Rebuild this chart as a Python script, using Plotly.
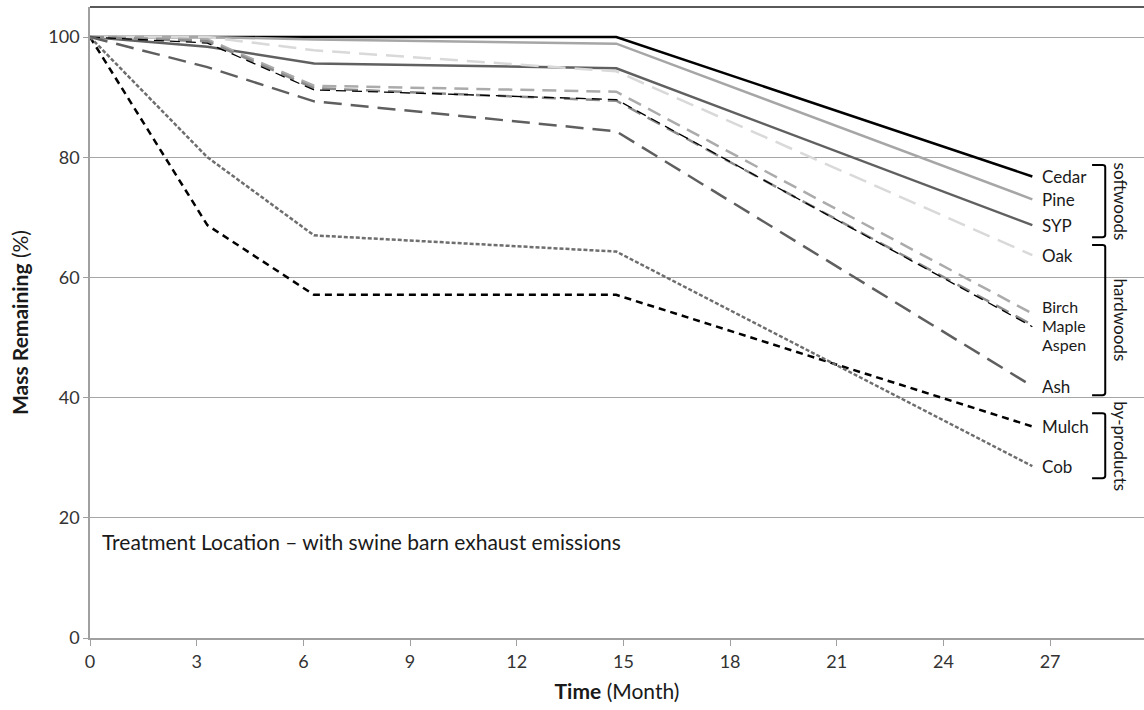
import plotly.graph_objects as go

# ---- data ----
time_months = [0, 3.3, 6.3, 14.8, 26.5]
series_names = ["Cedar", "Pine", "SYP", "Oak", "Birch", "Maple", "Aspen", "Ash", "Mulch", "Cob"]
cedar = [100, 100, 100, 100, 76.8]
pine = [100, 100, 99.6, 98.9, 73.0]
syp = [100, 98.4, 95.6, 94.8, 68.7]
oak = [100, 100, 97.8, 94.3, 63.7]
birch = [100, 99.6, 91.9, 90.9, 54.0]
maple = [100, 99.3, 91.5, 89.4, 52.1]
aspen = [100, 99.0, 91.2, 89.6, 51.8]
ash = [100, 95.0, 89.3, 84.3, 41.9]
mulch = [100, 68.7, 57.1, 57.1, 35.2]
cob = [100, 80.0, 67.0, 64.3, 28.6]
x_ticks = [0, 3, 6, 9, 12, 15, 18, 21, 24, 27]
y_ticks = [0, 20, 40, 60, 80, 100]
groups = [("softwoods", 78.7, 66.7), ("hardwoods", 65.4, 40.4), ("by-products", 37.4, 26.6)]

values = [cedar, pine, syp, oak, birch, maple, aspen, ash, mulch, cob]

# ---- styles ----
styles = {
    "Cedar": dict(color="#000000", width=2.5, dash="solid"),
    "Pine": dict(color="#a6a6a6", width=2.5, dash="solid"),
    "SYP": dict(color="#606060", width=2.5, dash="solid"),
    "Oak": dict(color="#d9d9d9", width=2.5, dash="18px,9px"),
    "Birch": dict(color="#ababab", width=2.5, dash="14px,8px"),
    "Maple": dict(color="#8c8c8c", width=2.5, dash="14px,8px"),
    "Aspen": dict(color="#000000", width=1.3, dash="10px,6px"),
    "Ash": dict(color="#5f5f5f", width=2.5, dash="18px,9px"),
    "Mulch": dict(color="#000000", width=2.5, dash="7px,5px"),
    "Cob": dict(color="#6e6e6e", width=2.5, dash="4px,2px"),
}
label_shift = {"Birch": 7, "Maple": -1, "Aspen": -18}
label_size = {"Birch": 16, "Maple": 16, "Aspen": 16}

FONT = "Lato, Calibri, Carlito, sans-serif"

fig = go.Figure()
for name, vals in zip(series_names, values):
    fig.add_trace(go.Scatter(x=time_months, y=vals, mode="lines", name=name,
                             line=styles[name], showlegend=False, hoverinfo="skip"))

annotations = []
for name, vals in zip(series_names, values):
    annotations.append(dict(x=time_months[-1], y=vals[-1], xref="x", yref="y",
                            text=name, showarrow=False, xanchor="left", xshift=9,
                            yshift=label_shift.get(name, 0), borderpad=0,
                            font=dict(family=FONT, size=label_size.get(name, 17), color="#1a1a1a")))

shapes = []
bx0, bx1 = 28.18, 28.55
for gname, ytop, ybot in groups:
    r = 0.35
    path = (f"M {bx0},{ytop} L {bx1 - 0.08},{ytop} Q {bx1},{ytop} {bx1},{ytop - r} "
            f"L {bx1},{ybot + r} Q {bx1},{ybot} {bx1 - 0.08},{ybot} L {bx0},{ybot}")
    shapes.append(dict(type="path", path=path, xref="x", yref="y",
                       line=dict(color="#000000", width=2)))
    annotations.append(dict(x=28.98, y=(ytop + ybot) / 2, xref="x", yref="y",
                            text=gname, showarrow=False, textangle=90,
                            font=dict(family=FONT, size=17, color="#1a1a1a")))

# top border
shapes.append(dict(type="line", xref="paper", yref="paper", x0=0, x1=1, y0=1, y1=1,
                   line=dict(color="#222222", width=1.5)))

annotations.append(dict(x=0.28, y=16.0, xref="x", yref="y", xanchor="left",
                        text="Treatment Location \u2013 with swine barn exhaust emissions",
                        showarrow=False, font=dict(family=FONT, size=21, color="#1a1a1a")))

fig.update_layout(
    width=1144, height=710,
    margin=dict(l=90, r=0, t=7, b=72),
    paper_bgcolor="white", plot_bgcolor="white",
    font=dict(family=FONT, size=18, color="#333333"),
    shapes=shapes, annotations=annotations,
)
fig.update_xaxes(range=[0, 29.64], tickvals=x_ticks, ticktext=[str(t) for t in x_ticks],
                 showgrid=False, zeroline=False, showline=True, linecolor="#a0a0a0", linewidth=2,
                 ticks="outside", ticklen=6, tickcolor="#a0a0a0",
                 tickfont=dict(family=FONT, size=18, color="#333333"),
                 title=dict(text="<b>Time</b> (Month)", font=dict(family=FONT, size=21, color="#1a1a1a"),
                            standoff=14))
fig.update_yaxes(range=[0, 105], tickvals=y_ticks, ticktext=[str(t) for t in y_ticks],
                 showgrid=True, gridcolor="#a6a6a6", gridwidth=1, zeroline=False,
                 showline=True, linecolor="#a0a0a0", linewidth=1.5,
                 ticks="outside", ticklen=5, tickcolor="#a0a0a0",
                 tickfont=dict(family=FONT, size=18, color="#333333"),
                 title=dict(text="<b>Mass Remaining</b> (%)", font=dict(family=FONT, size=21, color="#1a1a1a"),
                            standoff=14))

fig.write_html("out.html")
